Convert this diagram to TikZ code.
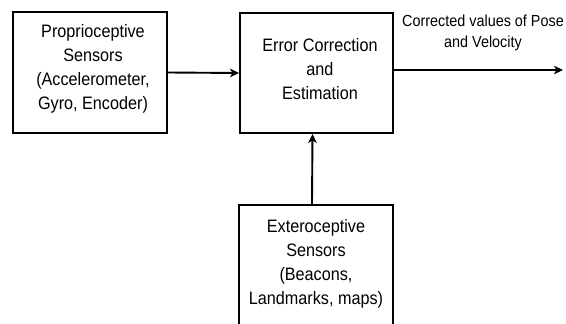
\documentclass[tikz,border=0pt]{standalone}
\usepackage{fontspec}
\setmainfont{Liberation Sans}[FakeStretch=0.9]
\usetikzlibrary{arrows.meta}
\begin{document}
\begin{tikzpicture}[x=1pt,y=-1pt,
  box/.style={draw,line width=1.9pt,minimum width=154pt,inner sep=0pt},
  txt/.style={align=center,inner sep=0pt,font=\fontsize{18}{24}\selectfont},
  note/.style={align=center,inner sep=0pt,font=\fontsize{16}{21}\selectfont},
  flow/.style={line width=1.9pt,-{Stealth[length=9pt,width=8.5pt,inset=2.5pt]}}]
\clip (0,0) rectangle (566,324);
% blocks
\node[box,minimum height=121pt] (prop) at (90,72.5) {};
\node[box,minimum height=120pt,minimum width=153pt] (est) at (316.5,73) {};
\node[box,minimum height=135pt] (ext) at (316,272.5) {};
% block texts
\node[txt] (proptxt) at (93,69) {Proprioceptive\\Sensors\\(Accelerometer,\\Gyro, Encoder)};
\node[txt] (esttxt) at (320,69) {Error Correction\\and\\Estimation};
\node[txt] (exttxt) at (316,264) {Exteroceptive\\Sensors\\(Beacons,\\Landmarks, maps)};
% output
\coordinate (out) at (563,70);
\node[note] (outtxt) at (483,33) {Corrected values of Pose\\and Velocity};
% connectors
\draw[flow] (prop.east) -- (est.west);
\draw[flow] ([yshift=3pt]est.east) -- (out);
\draw[flow] ([xshift=-4pt]ext.north) -- ([xshift=-4pt]est.south);
\end{tikzpicture}
\end{document}
